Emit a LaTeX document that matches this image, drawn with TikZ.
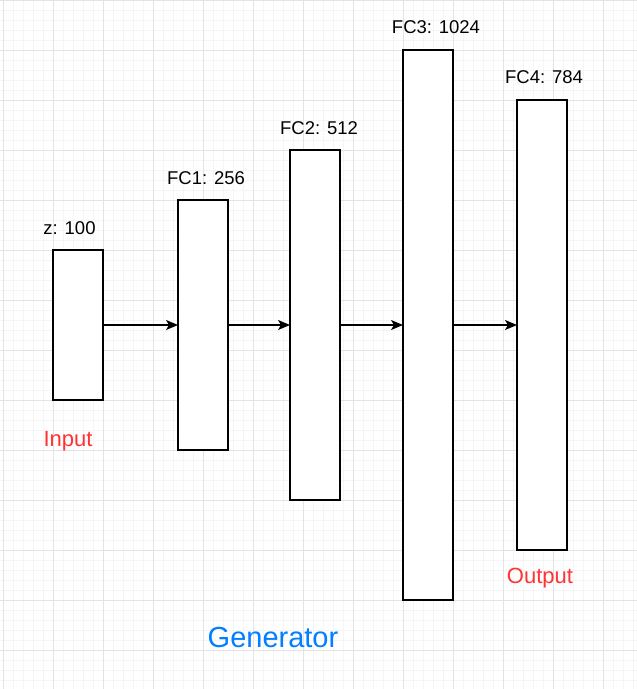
\documentclass[tikz,border=0pt]{standalone}
\usepackage{fontspec}
\setmainfont{Liberation Sans}
\usetikzlibrary{arrows.meta}
\definecolor{gridminor}{HTML}{F5F5F5}
\definecolor{gridmajor}{HTML}{E3E3E3}
\definecolor{lblred}{HTML}{FF3333}
\definecolor{lblblue}{HTML}{007FFF}
\begin{document}
\begin{tikzpicture}[x=1pt,y=-1pt,
  layer/.style={draw=black,fill=white,line width=1.3pt,minimum width=50pt,inner sep=0pt,outer sep=0pt},
  caption/.style={font=\fontsize{18.5}{20}\selectfont,inner sep=0pt,anchor=center},
  tag/.style={font=\fontsize{22}{24}\selectfont,text=lblred,inner sep=0pt,anchor=center},
  conn/.style={-{Stealth[length=12pt,width=10pt,inset=3pt]},line width=1.2pt}]
\useasboundingbox (0,0) rectangle (637,689);
\fill[white] (0,0) rectangle (637,689);
% grid
\foreach \x in {3,13,...,633} \draw[gridminor,line width=0.8pt] (\x,0) -- (\x,689);
\foreach \y in {0,10,...,689} \draw[gridminor,line width=0.8pt] (0,\y) -- (637,\y);
\foreach \x in {3,53,...,633} \draw[gridmajor,line width=1pt] (\x,0) -- (\x,689);
\foreach \y in {0,50,...,689} \draw[gridmajor,line width=1pt] (0,\y) -- (637,\y);
% layers
\node[layer,minimum height=150pt] (z) at (78,325) {};
\node[layer,minimum height=250pt] (fc1) at (203,325) {};
\node[layer,minimum height=350pt] (fc2) at (315,325) {};
\node[layer,minimum height=550pt] (fc3) at (428,325) {};
\node[layer,minimum height=450pt] (fc4) at (542,325) {};
% captions
\node[caption] (lz) at (69.5,228) {z: 100};
\node[caption] (l1) at (206,178) {FC1: 256};
\node[caption] (l2) at (319,128) {FC2: 512};
\node[caption] (l3) at (436,27) {FC3: 1024};
\node[caption] (l4) at (544,77) {FC4: 784};
\node[tag] (in) at (68,441) {Input};
\node[tag] (out) at (540,578) {Output};
\node[font=\fontsize{29}{32}\selectfont,text=lblblue,inner sep=0pt] (gen) at (273,638) {Generator};
% connectors
\draw[conn] (z.east) -- (fc1.west);
\draw[conn] (fc1.east) -- (fc2.west);
\draw[conn] (fc2.east) -- (fc3.west);
\draw[conn] (fc3.east) -- (fc4.west);
\end{tikzpicture}
\end{document}
